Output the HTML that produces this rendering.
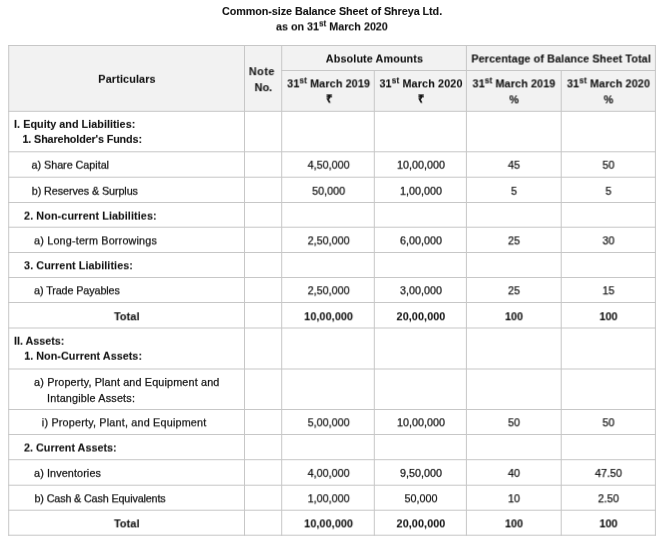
<!DOCTYPE html>
<html><head><meta charset="utf-8"><title>Common-size Balance Sheet</title>
<style>
html,body{margin:0;padding:0;background:#fff;}
body{width:660px;height:543px;overflow:hidden;position:relative;font-family:"Liberation Sans",sans-serif;font-size:10.8px;color:#151515;-webkit-text-stroke:0.25px #151515;}
.title{position:absolute;left:0;top:4px;width:664px;text-align:center;font-weight:bold;line-height:15.4px;}
sup{font-size:8.2px;line-height:0;vertical-align:baseline;position:relative;top:-4.1px;}
table{position:absolute;left:8.5px;top:45px;border-collapse:collapse;table-layout:fixed;width:647px;}
td,th{border:0;padding:0;line-height:15.5px;vertical-align:middle;text-align:center;font-weight:normal;overflow:hidden;white-space:nowrap;}
th{font-weight:bold;}
svg.grid{position:absolute;left:0;top:0;}
td.l{text-align:left;}
.b{font-weight:bold;}
.b,th,.title{-webkit-text-stroke-width:0.1px;}
.t{white-space:nowrap;display:inline-block;}
.ln{display:block;position:relative;will-change:transform;}
.ln2{display:block;position:relative;}
</style></head><body>
<div class="title"><span class="t" style="letter-spacing:-0.061px">Common-size Balance Sheet of Shreya Ltd.</span><br><span class="ln" style="display:inline-block;transform:translate(0px,0.4px) rotate(0.003deg)"><span class="t" style="letter-spacing:-0.024px">as on 31<sup>st</sup> March 2020</span></span></div>
<svg class="grid" width="660" height="543" viewBox="0 0 660 543"><rect x="8.7" y="45.5" width="646.6999999999999" height="65.8" fill="#f2f2f2"/><rect x="8.20" y="45.00" width="647.70" height="1" fill="#c7c7c7"/><rect x="281.20" y="70.00" width="374.70" height="1" fill="#c7c7c7"/><rect x="8.20" y="110.80" width="647.70" height="1" fill="#c7c7c7"/><rect x="8.20" y="151.30" width="647.70" height="1" fill="#c7c7c7"/><rect x="8.20" y="176.70" width="647.70" height="1" fill="#c7c7c7"/><rect x="8.20" y="202.00" width="647.70" height="1" fill="#c7c7c7"/><rect x="8.20" y="226.70" width="647.70" height="1" fill="#c7c7c7"/><rect x="8.20" y="252.00" width="647.70" height="1" fill="#c7c7c7"/><rect x="8.20" y="277.00" width="647.70" height="1" fill="#c7c7c7"/><rect x="8.20" y="302.00" width="647.70" height="1" fill="#c7c7c7"/><rect x="8.20" y="327.50" width="647.70" height="1" fill="#c7c7c7"/><rect x="8.20" y="368.50" width="647.70" height="1" fill="#c7c7c7"/><rect x="8.20" y="409.00" width="647.70" height="1" fill="#c7c7c7"/><rect x="8.20" y="434.00" width="647.70" height="1" fill="#c7c7c7"/><rect x="8.20" y="459.20" width="647.70" height="1" fill="#c7c7c7"/><rect x="8.20" y="484.70" width="647.70" height="1" fill="#c7c7c7"/><rect x="8.20" y="509.70" width="647.70" height="1" fill="#c7c7c7"/><rect x="8.20" y="534.70" width="647.70" height="1" fill="#c7c7c7"/><rect x="8.20" y="45.00" width="1" height="490.70" fill="#c7c7c7"/><rect x="244.00" y="45.00" width="1" height="490.70" fill="#c7c7c7"/><rect x="281.20" y="45.00" width="1" height="490.70" fill="#c7c7c7"/><rect x="373.80" y="70.00" width="1" height="465.70" fill="#c7c7c7"/><rect x="465.90" y="45.00" width="1" height="490.70" fill="#c7c7c7"/><rect x="560.70" y="70.00" width="1" height="465.70" fill="#c7c7c7"/><rect x="654.90" y="45.00" width="1" height="490.70" fill="#c7c7c7"/></svg>
<table>
<colgroup><col style="width:236px"><col style="width:37px"><col style="width:93px"><col style="width:92px"><col style="width:95px"><col style="width:94px"></colgroup>
<tr style="height:25px"><th rowspan="2"><span class="ln" style="transform:translate(0px,1.8px) rotate(0.003deg)"><span class="t" style="letter-spacing:0.137px">Particulars</span></span></th><th rowspan="2"><span class="ln" style="transform:translate(-1.6px,1.2px) rotate(0.003deg)"><span class="t" style="letter-spacing:0.500px">Note</span><br><span style="position:relative;top:0.1px;left:1.6px"><span class="t" style="letter-spacing:0.047px">No.</span></span></span></th><th colspan="2"><span class="ln" style="transform:translate(0px,1.5px) rotate(0.003deg)"><span class="t" style="letter-spacing:0.108px">Absolute Amounts</span></span></th><th colspan="2"><span class="ln" style="transform:translate(-0.4px,1.5px) rotate(0.003deg)"><span class="t" style="letter-spacing:0.103px">Percentage of Balance Sheet Total</span></span></th></tr>
<tr style="height:41px"><th><span class="ln" style="transform:translate(0.2px,1.4px) rotate(0.003deg)"><span class="t" style="letter-spacing:0.123px">31<sup>st</sup> March 2019</span><br><span style="position:relative;top:-0.40px"><span class="t" style="letter-spacing:0.000px">₹</span></span></span></th><th><span class="ln" style="transform:translate(0px,1.4px) rotate(0.003deg)"><span class="t" style="letter-spacing:0.137px">31<sup>st</sup> March 2020</span><br><span style="position:relative;top:-0.40px"><span class="t" style="letter-spacing:0.000px">₹</span></span></span></th><th><span class="ln" style="transform:translate(-0.5px,1.4px) rotate(0.003deg)"><span class="t" style="letter-spacing:0.123px">31<sup>st</sup> March 2019</span><br><span style="position:relative;top:0.20px"><span class="t" style="letter-spacing:0.000px">%</span></span></span></th><th><span class="ln" style="transform:translate(-0.5px,1.4px) rotate(0.003deg)"><span class="t" style="letter-spacing:0.137px">31<sup>st</sup> March 2020</span><br><span style="position:relative;top:0.20px"><span class="t" style="letter-spacing:0.000px">%</span></span></span></th></tr>
<tr style="height:40px"><td class="l"><span class="ln" style="transform:translateY(0.9px) rotate(0.003deg)"><span class="ln2 b" style="padding-left:5.10px;top:0px"><span class="t" style="letter-spacing:0.024px">I. Equity and Liabilities:</span></span><span class="ln2 b" style="padding-left:13.50px;top:-0.2px"><span class="t" style="letter-spacing:-0.139px">1. Shareholder's Funds:</span></span></span></td><td></td><td></td><td></td><td></td><td></td></tr>
<tr style="height:26px"><td class="l"><span class="ln" style="transform:translateY(1.7px) rotate(0.003deg)"><span class="ln2" style="padding-left:22.50px;top:0px"><span class="t" style="letter-spacing:-0.035px">a) Share Capital</span></span></span></td><td></td><td><span class="ln" style="transform:translate(0.2px,1.7px) rotate(0.003deg)"><span class="t" style="letter-spacing:0.000px">4,50,000</span></span></td><td><span class="ln" style="transform:translate(0px,1.7px) rotate(0.003deg)"><span class="t" style="letter-spacing:0.000px">10,00,000</span></span></td><td><span class="ln" style="transform:translate(-0.5px,1.7px) rotate(0.003deg)"><span class="t" style="letter-spacing:0.000px">45</span></span></td><td><span class="ln" style="transform:translate(-0.5px,1.7px) rotate(0.003deg)"><span class="t" style="letter-spacing:0.000px">50</span></span></td></tr>
<tr style="height:25px"><td class="l"><span class="ln" style="transform:translateY(1.75px) rotate(0.003deg)"><span class="ln2" style="padding-left:22.80px;top:0px"><span class="t" style="letter-spacing:-0.091px">b) Reserves &amp; Surplus</span></span></span></td><td></td><td><span class="ln" style="transform:translate(0.2px,1.75px) rotate(0.003deg)"><span class="t" style="letter-spacing:0.000px">50,000</span></span></td><td><span class="ln" style="transform:translate(0px,1.75px) rotate(0.003deg)"><span class="t" style="letter-spacing:0.000px">1,00,000</span></span></td><td><span class="ln" style="transform:translate(-0.5px,1.75px) rotate(0.003deg)"><span class="t" style="letter-spacing:0.000px">5</span></span></td><td><span class="ln" style="transform:translate(-0.5px,1.75px) rotate(0.003deg)"><span class="t" style="letter-spacing:0.000px">5</span></span></td></tr>
<tr style="height:25px"><td class="l"><span class="ln" style="transform:translateY(1.6px) rotate(0.003deg)"><span class="ln2 b" style="padding-left:15.10px;top:0px"><span class="t" style="letter-spacing:0.089px">2. Non-current Liabilities:</span></span></span></td><td></td><td></td><td></td><td></td><td></td></tr>
<tr style="height:25px"><td class="l"><span class="ln" style="transform:translateY(1.4px) rotate(0.003deg)"><span class="ln2" style="padding-left:25.10px;top:0px"><span class="t" style="letter-spacing:0.181px">a) Long-term Borrowings</span></span></span></td><td></td><td><span class="ln" style="transform:translate(0.2px,1.4px) rotate(0.003deg)"><span class="t" style="letter-spacing:0.000px">2,50,000</span></span></td><td><span class="ln" style="transform:translate(0px,1.4px) rotate(0.003deg)"><span class="t" style="letter-spacing:0.000px">6,00,000</span></span></td><td><span class="ln" style="transform:translate(-0.5px,1.4px) rotate(0.003deg)"><span class="t" style="letter-spacing:0.000px">25</span></span></td><td><span class="ln" style="transform:translate(-0.5px,1.4px) rotate(0.003deg)"><span class="t" style="letter-spacing:0.000px">30</span></span></td></tr>
<tr style="height:25px"><td class="l"><span class="ln" style="transform:translateY(1.3px) rotate(0.003deg)"><span class="ln2 b" style="padding-left:15.10px;top:0px"><span class="t" style="letter-spacing:0.064px">3. Current Liabilities:</span></span></span></td><td></td><td></td><td></td><td></td><td></td></tr>
<tr style="height:25px"><td class="l"><span class="ln" style="transform:translateY(1.3px) rotate(0.003deg)"><span class="ln2" style="padding-left:25.10px;top:0px"><span class="t" style="letter-spacing:-0.114px">a) Trade Payables</span></span></span></td><td></td><td><span class="ln" style="transform:translate(0.2px,1.3px) rotate(0.003deg)"><span class="t" style="letter-spacing:0.000px">2,50,000</span></span></td><td><span class="ln" style="transform:translate(0px,1.3px) rotate(0.003deg)"><span class="t" style="letter-spacing:0.000px">3,00,000</span></span></td><td><span class="ln" style="transform:translate(-0.5px,1.3px) rotate(0.003deg)"><span class="t" style="letter-spacing:0.000px">25</span></span></td><td><span class="ln" style="transform:translate(-0.5px,1.3px) rotate(0.003deg)"><span class="t" style="letter-spacing:0.000px">15</span></span></td></tr>
<tr style="height:26px"><td class="b"><span class="ln" style="transform:translate(-0.2px,2.3px) rotate(0.003deg)"><span class="t" style="letter-spacing:0.125px">Total</span></span></td><td></td><td class=b><span class="ln" style="transform:translate(0.2px,2.3px) rotate(0.003deg)"><span class="t" style="letter-spacing:0.100px">10,00,000</span></span></td><td class=b><span class="ln" style="transform:translate(0px,2.3px) rotate(0.003deg)"><span class="t" style="letter-spacing:0.100px">20,00,000</span></span></td><td class=b><span class="ln" style="transform:translate(-0.5px,2.3px) rotate(0.003deg)"><span class="t" style="letter-spacing:0.000px">100</span></span></td><td class=b><span class="ln" style="transform:translate(-0.5px,2.3px) rotate(0.003deg)"><span class="t" style="letter-spacing:0.000px">100</span></span></td></tr>
<tr style="height:40px"><td class="l"><span class="ln" style="transform:translateY(0.7px) rotate(0.003deg)"><span class="ln2 b" style="padding-left:5.10px;top:0px"><span class="t" style="letter-spacing:-0.041px">II. Assets:</span></span><span class="ln2 b" style="padding-left:15.20px;top:-0.3px"><span class="t" style="letter-spacing:0.029px">1. Non-Current Assets:</span></span></span></td><td></td><td></td><td></td><td></td><td></td></tr>
<tr style="height:41px"><td class="l"><span class="ln" style="transform:translateY(1.95px) rotate(0.003deg)"><span class="ln2" style="padding-left:25.10px;top:0px"><span class="t" style="letter-spacing:0.153px">a) Property, Plant and Equipment and</span></span><span class="ln2" style="padding-left:38.10px;top:0px"><span class="t" style="letter-spacing:0.186px">Intangible Assets:</span></span></span></td><td></td><td></td><td></td><td></td><td></td></tr>
<tr style="height:25px"><td class="l"><span class="ln" style="transform:translateY(1.3px) rotate(0.003deg)"><span class="ln2" style="padding-left:32.80px;top:0px"><span class="t" style="letter-spacing:0.195px">i) Property, Plant, and Equipment</span></span></span></td><td></td><td><span class="ln" style="transform:translate(0.2px,1.3px) rotate(0.003deg)"><span class="t" style="letter-spacing:0.000px">5,00,000</span></span></td><td><span class="ln" style="transform:translate(0px,1.3px) rotate(0.003deg)"><span class="t" style="letter-spacing:0.000px">10,00,000</span></span></td><td><span class="ln" style="transform:translate(-0.5px,1.3px) rotate(0.003deg)"><span class="t" style="letter-spacing:0.000px">50</span></span></td><td><span class="ln" style="transform:translate(-0.5px,1.3px) rotate(0.003deg)"><span class="t" style="letter-spacing:0.000px">50</span></span></td></tr>
<tr style="height:25px"><td class="l"><span class="ln" style="transform:translateY(1.5px) rotate(0.003deg)"><span class="ln2 b" style="padding-left:15.10px;top:0px"><span class="t" style="letter-spacing:-0.006px">2. Current Assets:</span></span></span></td><td></td><td></td><td></td><td></td><td></td></tr>
<tr style="height:26px"><td class="l"><span class="ln" style="transform:translateY(1.9px) rotate(0.003deg)"><span class="ln2" style="padding-left:25.10px;top:0px"><span class="t" style="letter-spacing:0.106px">a) Inventories</span></span></span></td><td></td><td><span class="ln" style="transform:translate(0.2px,1.9px) rotate(0.003deg)"><span class="t" style="letter-spacing:0.000px">4,00,000</span></span></td><td><span class="ln" style="transform:translate(0px,1.9px) rotate(0.003deg)"><span class="t" style="letter-spacing:0.000px">9,50,000</span></span></td><td><span class="ln" style="transform:translate(-0.5px,1.9px) rotate(0.003deg)"><span class="t" style="letter-spacing:0.000px">40</span></span></td><td><span class="ln" style="transform:translate(-0.5px,1.9px) rotate(0.003deg)"><span class="t" style="letter-spacing:0.000px">47.50</span></span></td></tr>
<tr style="height:25px"><td class="l"><span class="ln" style="transform:translateY(1.3px) rotate(0.003deg)"><span class="ln2" style="padding-left:25.50px;top:0px"><span class="t" style="letter-spacing:-0.153px">b) Cash &amp; Cash Equivalents</span></span></span></td><td></td><td><span class="ln" style="transform:translate(0.2px,1.3px) rotate(0.003deg)"><span class="t" style="letter-spacing:0.000px">1,00,000</span></span></td><td><span class="ln" style="transform:translate(0px,1.3px) rotate(0.003deg)"><span class="t" style="letter-spacing:0.000px">50,000</span></span></td><td><span class="ln" style="transform:translate(-0.5px,1.3px) rotate(0.003deg)"><span class="t" style="letter-spacing:0.000px">10</span></span></td><td><span class="ln" style="transform:translate(-0.5px,1.3px) rotate(0.003deg)"><span class="t" style="letter-spacing:0.000px">2.50</span></span></td></tr>
<tr style="height:25px"><td class="b"><span class="ln" style="transform:translate(-0.2px,1.4px) rotate(0.003deg)"><span class="t" style="letter-spacing:0.125px">Total</span></span></td><td></td><td class=b><span class="ln" style="transform:translate(0.2px,1.4px) rotate(0.003deg)"><span class="t" style="letter-spacing:0.100px">10,00,000</span></span></td><td class=b><span class="ln" style="transform:translate(0px,1.4px) rotate(0.003deg)"><span class="t" style="letter-spacing:0.100px">20,00,000</span></span></td><td class=b><span class="ln" style="transform:translate(-0.5px,1.4px) rotate(0.003deg)"><span class="t" style="letter-spacing:0.000px">100</span></span></td><td class=b><span class="ln" style="transform:translate(-0.5px,1.4px) rotate(0.003deg)"><span class="t" style="letter-spacing:0.000px">100</span></span></td></tr>
</table></body></html>
